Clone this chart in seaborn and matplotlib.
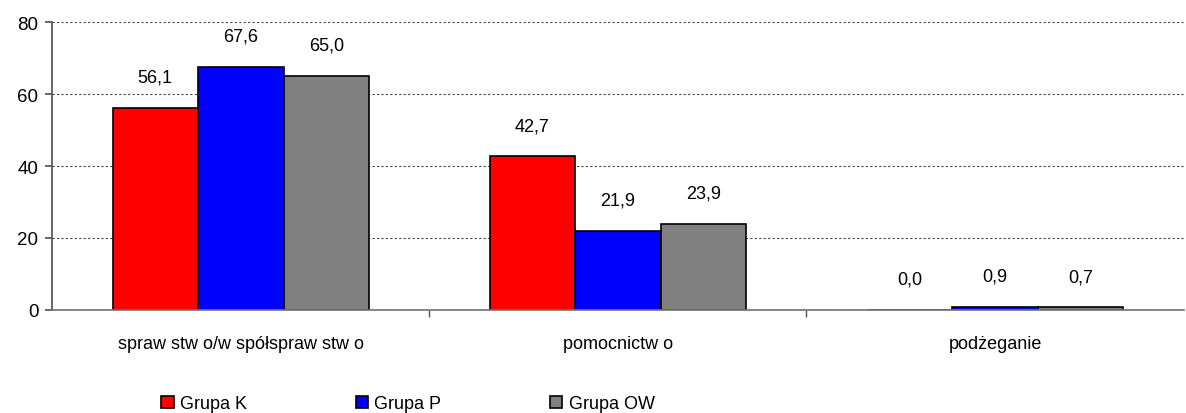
import pandas as pd
import matplotlib.pyplot as plt
import seaborn as sns

sns.set_theme(style="white")
plt.rcParams["font.family"] = ["Liberation Sans", "DejaVu Sans"]
plt.rcParams["text.color"] = "black"
plt.rcParams["xtick.color"] = "black"
plt.rcParams["ytick.color"] = "black"

# data
categories = ["spraw stw o/w spółspraw stw o", "pomocnictw o", "podżeganie"]
groups = ["Grupa K", "Grupa P", "Grupa OW"]
grupa_k = [56.1, 42.7, 0.0]
grupa_p = [67.6, 21.9, 0.9]
grupa_ow = [65.0, 23.9, 0.7]

df = pd.DataFrame({
    "kategoria": categories * 3,
    "grupa": [g for g in groups for _ in categories],
    "wartosc": grupa_k + grupa_p + grupa_ow,
})

palette = {"Grupa K": "#ff0000", "Grupa P": "#0000ff", "Grupa OW": "#808080"}

fig = plt.figure(figsize=(11.86, 4.14), dpi=100)
ax = fig.add_axes([0.044, 0.249, 0.954, 0.695])

sns.barplot(data=df, x="kategoria", y="wartosc", hue="grupa", palette=palette,
            width=0.68, edgecolor="black", linewidth=1.2, saturation=1, ax=ax)

for cont in ax.containers:
    ax.bar_label(cont, labels=[f"{v:.1f}".replace(".", ",") for v in cont.datavalues],
                 padding=16, fontsize=13, color="black")

ax.set_ylim(0, 80)
ax.set_yticks([0, 20, 40, 60, 80])
ax.set_xlim(-0.5, 2.5)
ax.set_xlabel("")
ax.set_ylabel("")
ax.yaxis.grid(True, linestyle=(0, (2, 2)), color="#444444", linewidth=0.8)
ax.set_axisbelow(True)

for s in ["top", "right"]:
    ax.spines[s].set_visible(False)
ax.spines["left"].set_color("#555555")
ax.spines["bottom"].set_color("#777777")

ax.tick_params(axis="y", left=True, length=5, color="#555555", labelcolor="black",
               labelsize=13.5, pad=5)
ax.tick_params(axis="x", bottom=False, labelcolor="black", labelsize=13, pad=12)
ax.set_xticks([0.5, 1.5], minor=True)
ax.tick_params(axis="x", which="minor", bottom=True, length=5, color="#555555")

ax.legend(loc="center left", bbox_to_anchor=(0.082, -0.326), ncol=3, frameon=False,
          fontsize=13, handlelength=0.7, handleheight=0.7, handletextpad=0.35,
          columnspacing=6.0, labelcolor="black")

fig.savefig("out.png")
